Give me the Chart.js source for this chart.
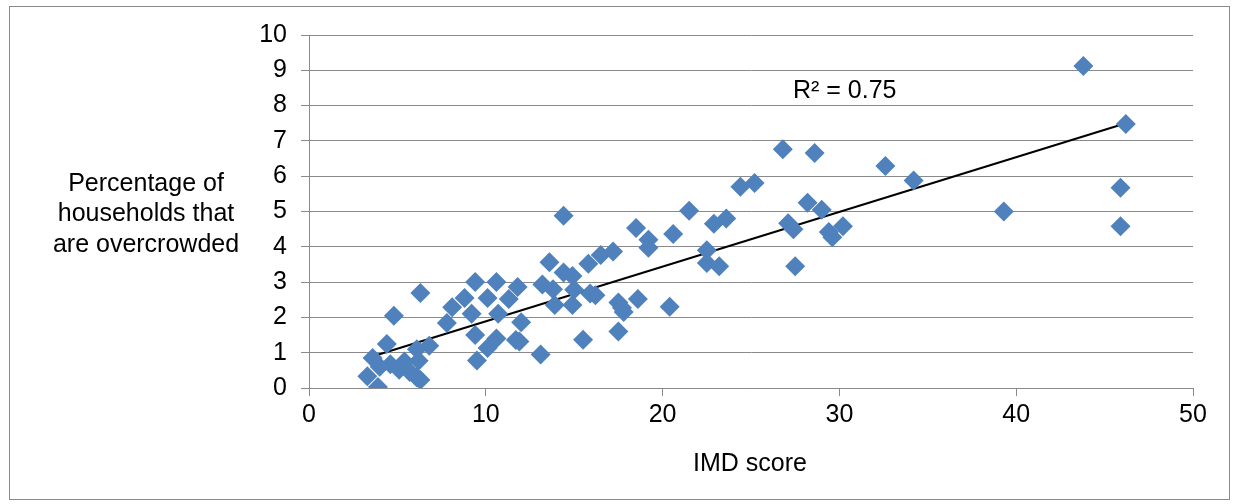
<!DOCTYPE html>
<html>
<head>
<meta charset="utf-8">
<script src="https://cdn.jsdelivr.net/npm/chart.js@4"></script>
<style>
  body { margin: 0; background: #fff; }
  #wrap { position: relative; width: 1236px; height: 504px; }
</style>
</head>
<body>
<div id="wrap"><canvas id="grafica" width="1236" height="504"></canvas></div>
<script>
// IMD score (x) vs % overcrowded households (y)
const imdScore = [43.8, 46.2, 45.9, 45.9, 39.3, 34.2, 32.6, 26.8, 28.6, 24.4,
  25.2, 28.2, 29.0, 29.4, 30.2, 29.6, 27.5, 21.5, 20.6, 22.9,
  23.6, 27.1, 27.4, 22.5, 22.5, 23.2, 20.4, 14.4, 18.5, 19.2,
  19.2, 13.6, 15.8, 16.5, 17.2, 14.4, 14.9, 13.2, 13.8, 15.0,
  16.2, 15.9, 13.9, 14.9, 17.5, 18.6, 17.8, 17.7, 15.5, 17.5,
  13.1, 9.4, 10.6, 11.8, 8.8, 10.1, 11.3, 8.1, 9.2, 10.7,
  7.8, 12.0, 6.8, 9.4, 10.6, 10.1, 11.7, 11.9, 9.5, 6.3,
  4.8, 4.4, 6.1, 3.6, 4.0, 4.6, 5.4, 6.2, 5.1, 5.7,
  6.3, 3.3, 3.9, 6.1];
const overcrowded = [9.12, 7.48, 5.67, 4.58, 5.00, 5.88, 6.29, 6.76, 6.66, 5.70,
  5.81, 5.25, 5.05, 4.42, 4.58, 4.27, 3.45, 5.02, 4.36, 4.65,
  4.80, 4.67, 4.50, 3.90, 3.54, 3.45, 2.30, 4.88, 4.53, 4.20,
  3.97, 3.56, 3.52, 3.77, 3.87, 3.27, 3.17, 2.93, 2.80, 2.78,
  2.63, 2.68, 2.35, 2.35, 2.42, 2.52, 2.15, 2.27, 1.37, 1.60,
  0.95, 3.00, 3.00, 2.86, 2.55, 2.55, 2.52, 2.29, 2.10, 2.10,
  1.84, 1.86, 1.20, 1.50, 1.40, 1.13, 1.36, 1.32, 0.78, 2.69,
  2.05, 1.25, 1.10, 0.85, 0.60, 0.67, 0.75, 0.77, 0.52, 0.45,
  0.23, 0.33, 0.03, 0.30];

// trendline ends
const trendX = [3.3, 46.2];
const trendY = [0.85, 7.5];
const rSquared = 'R\u00b2 = 0.75';

const yTitle = ['Percentage of', 'households that', 'are overcrowded'];
const xTitle = 'IMD score';

const FONT = '"Liberation Sans", Arial, sans-serif';
const GRID = '#8a8a8a';

const puntos = imdScore.map((x, i) => ({ x: x, y: overcrowded[i] }));
const tendencia = trendX.map((x, i) => ({ x: x, y: trendY[i] }));

const textos = {
  id: 'textos',
  beforeDraw(chart) {
    const ctx = chart.ctx;
    ctx.save();
    ctx.fillStyle = '#fff';
    ctx.fillRect(0, 0, chart.width, chart.height);
    ctx.strokeStyle = '#8a8a8a';
    ctx.lineWidth = 1;
    ctx.strokeRect(9.5, 6.5, 1220, 493);
    ctx.restore();
  },
  afterDraw(chart) {
    const ctx = chart.ctx;
    const xs = chart.scales.x, ys = chart.scales.y;
    ctx.save();
    ctx.fillStyle = '#000';
    ctx.font = '25px ' + FONT;
    ctx.textAlign = 'center';
    ctx.textBaseline = 'middle';
    // y title, horizontal, three lines
    yTitle.forEach((t, i) => ctx.fillText(t, 146, 184 + i * 30.5));
    // x title
    ctx.fillText(xTitle, 750, 464);
    // R² label
    ctx.fillText(rSquared, xs.getPixelForValue(30.3), ys.getPixelForValue(8.4));
    ctx.restore();
  }
};

new Chart(document.getElementById('grafica'), {
  type: 'scatter',
  data: {
    datasets: [{
      label: 'Overcrowding',
      data: puntos,
      pointStyle: 'rectRot',
      pointRadius: 10,
      pointHoverRadius: 10,
      backgroundColor: '#4F81BD',
      borderColor: '#4F81BD',
      borderWidth: 0
    }, {
      label: 'Trend',
      type: 'line',
      data: tendencia,
      showLine: true,
      pointRadius: 0,
      borderColor: '#000',
      borderWidth: 2
    }]
  },
  options: {
    responsive: false,
    animation: false,
    layout: { padding: { top: 35, right: 43, left: 0, bottom: 0 } },
    plugins: {
      legend: { display: false },
      tooltip: { enabled: false }
    },
    scales: {
      x: {
        type: 'linear',
        min: 0,
        max: 50,
        afterFit: (s) => { s.height = 116; },
        ticks: { stepSize: 10, color: '#000', font: { family: FONT, size: 25 }, padding: 4 },
        grid: { drawOnChartArea: false, color: GRID, tickLength: 8 },
        border: { color: GRID, width: 1 }
      },
      y: {
        min: 0,
        max: 10,
        afterFit: (s) => { s.width = 309; },
        ticks: { stepSize: 1, color: '#000', font: { family: FONT, size: 25 }, padding: 14 },
        grid: { color: GRID, lineWidth: 1, tickLength: 8 },
        border: { color: GRID, width: 1 }
      }
    }
  },
  plugins: [textos]
});
</script>
</body>
</html>
